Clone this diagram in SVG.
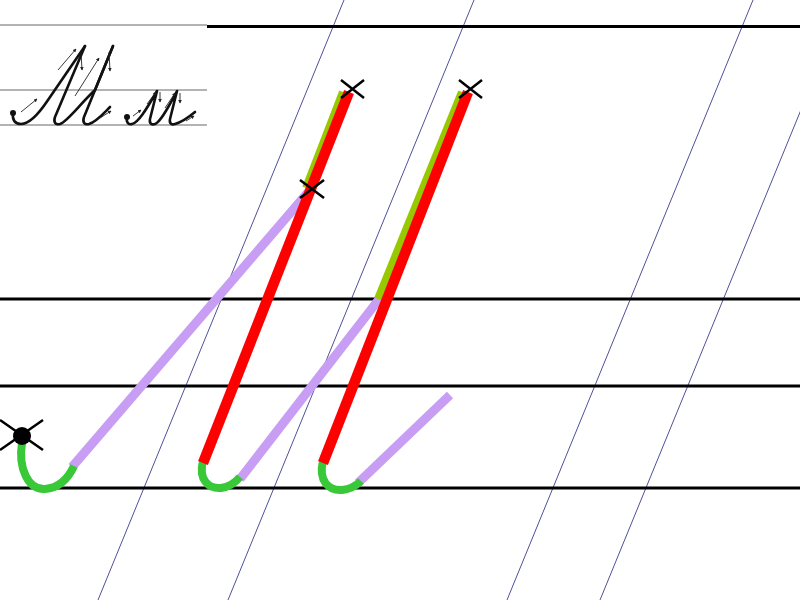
<svg xmlns="http://www.w3.org/2000/svg" width="800" height="600" viewBox="0 0 800 600">
<style>
.guide{stroke:#50509a;stroke-width:1;fill:none}
.rule{stroke:#000;stroke-width:3;fill:none}
.thin{stroke:#9a9a9a;stroke-width:1.5;fill:none}
.pen{stroke:#111;stroke-width:2.6;fill:none;stroke-linecap:round;stroke-linejoin:round}
.arr{stroke:#222;stroke-width:0.9;fill:none;marker-end:url(#ah)}
.purple{stroke:#c79ef4;stroke-width:9;fill:none;stroke-linecap:butt}
.lime{stroke:#98c800;stroke-width:8;fill:none}
.red{stroke:#ff0000;stroke-width:10.5;fill:none}
.hook{stroke:#38c838;stroke-width:8;fill:none}
.x{stroke:#000;stroke-width:2.5;fill:none}
</style>
<defs>
<marker id="ah" viewBox="0 0 6 6" refX="5" refY="3" markerWidth="4" markerHeight="4" orient="auto">
<path d="M0,0 L6,3 L0,6 Z" fill="#222"/>
</marker>
</defs>
<rect width="800" height="600" fill="#fff"/>
<g id="guides">
<line class="guide" x1="98" y1="600" x2="344" y2="0"/>
<line class="guide" x1="228" y1="600" x2="474" y2="0"/>
<line class="guide" x1="507" y1="600" x2="753" y2="0"/>
<line class="guide" x1="600" y1="600" x2="846" y2="0"/>
</g>
<g id="rules">
<line class="thin" x1="0" y1="25" x2="207" y2="25"/>
<line class="rule" x1="207" y1="26.5" x2="800" y2="26.5"/>
<line class="rule" x1="0" y1="299" x2="800" y2="299"/>
<line class="rule" x1="0" y1="386" x2="800" y2="386"/>
<line class="rule" x1="0" y1="488" x2="800" y2="488"/>
</g>
<g id="sample">
<line class="thin" x1="0" y1="90" x2="207" y2="90"/>
<line class="thin" x1="0" y1="125" x2="207" y2="125"/>
<circle cx="13" cy="113" r="3" fill="#111"/>
<path class="pen" d="M13,113 C12,120 15,124 21,124 C28,124 36,118 48,100 L85,46"/>
<path class="pen" d="M85,46 L55,117 C53,123 56,125 60,124 C67,122 80,104 95,90 L113,46"/>
<path class="pen" d="M113,46 L84,117 C82,123 85,125 89,124 C96,122 103,114 110,107"/>
<line class="arr" x1="21" y1="112" x2="37" y2="99"/>
<line class="arr" x1="58" y1="70" x2="76" y2="49"/>
<line class="arr" x1="81" y1="52" x2="82" y2="70"/>
<line class="arr" x1="75" y1="96" x2="99" y2="58"/>
<line class="arr" x1="109" y1="52" x2="110" y2="71"/>
<line class="arr" x1="100" y1="118" x2="111" y2="111"/>
<circle cx="127" cy="117" r="3" fill="#111"/>
<path class="pen" d="M127,117 C126,122 128,125 132,124 C138,123 146,110 157,91 L150,119 C149,124 152,125 155,124 C160,122 166,112 177,91 L170,119 C169,124 172,125 175,124 C182,122 189,117 195,112"/>
<line class="arr" x1="133" y1="116" x2="141" y2="110"/>
<line class="arr" x1="147" y1="104" x2="156" y2="92"/>
<line class="arr" x1="160" y1="92" x2="160" y2="102"/>
<line class="arr" x1="165" y1="108" x2="175" y2="93"/>
<line class="arr" x1="180" y1="93" x2="180" y2="103"/>
<line class="arr" x1="186" y1="121" x2="194" y2="116"/>
</g>
<g id="connectors">
<path class="purple" d="M72,467 L310,190"/>
<path class="purple" d="M240,479 L380,298"/>
<path class="purple" d="M358,483 L450,395"/>
<path class="lime" d="M343,92 L306,188"/>
<path class="lime" d="M462,92 L378,299"/>
<path class="hook" d="M22,443 C18,468 28,490 45,489 C58,488 68,479 74,466"/>
<path class="hook" d="M203,461 C198,480 209,489 221,488 C229,487 235,483 240,477"/>
<path class="hook" d="M323,461 C318,481 329,491 342,490 C350,489 356,486 361,481"/>
<path class="red" d="M349,92 L203,463"/>
<path class="red" d="M468,92 L323,463"/>
</g>
<g id="marks">
<path class="x" d="M341,80 L364,98 M341,98 L364,80"/>
<path class="x" d="M300,180 L324,198 M300,198 L324,180"/>
<path class="x" d="M459,80 L482,98 M459,98 L482,80"/>
<path class="x" d="M0,420 L43,450 M0,450 L43,420"/>
<circle cx="22" cy="436" r="9" fill="#000"/>
</g>
</svg>
